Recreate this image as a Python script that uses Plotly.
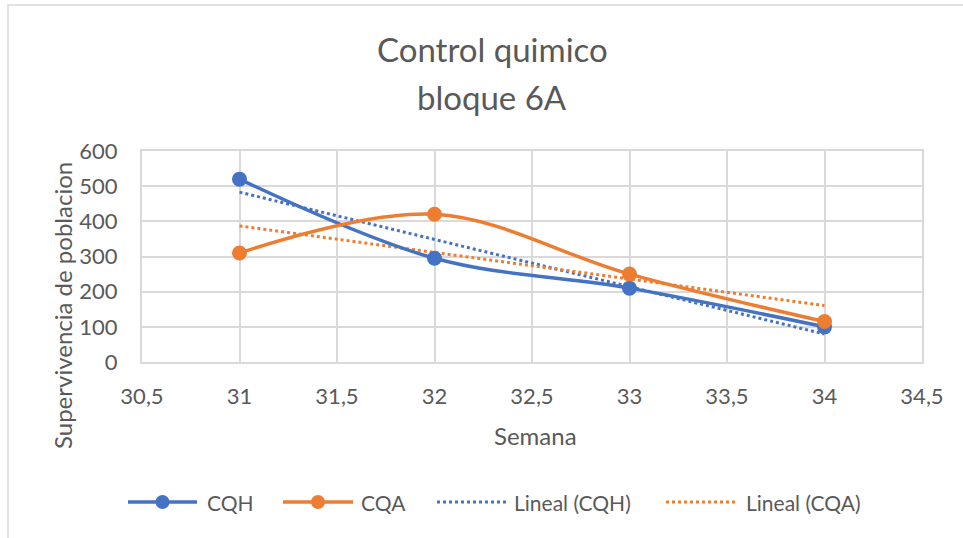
import numpy as np
import plotly.graph_objects as go

semana = [31, 32, 33, 34]
cqh = [520, 295, 210, 100]
cqa = [310, 420, 250, 115]
x_ticks = [30.5, 31, 31.5, 32, 32.5, 33, 33.5, 34, 34.5]
x_ticklabels = ["30,5", "31", "31,5", "32", "32,5", "33", "33,5", "34", "34,5"]
y_ticks = [0, 100, 200, 300, 400, 500, 600]

BLUE = "#4472C4"
ORANGE = "#ED7D31"
GRID = "#D9D9D9"
TXT = "#595959"
FONT = "Lato"

# plot area in pixels
L, R, T, B = 142, 922, 151, 362
W, H = R - L, B - T


def px_x(p):
    return (p - L) / W


def px_y(p):
    return (B - p) / H


def trend(x, y):
    m, c = np.polyfit(x, y, 1)
    return [m * xi + c for xi in x]


fig = go.Figure()
fig.add_trace(go.Scatter(x=semana, y=trend(semana, cqh), mode="lines", name="Lineal (CQH)",
                         line=dict(color=BLUE, width=3, dash="dot"), showlegend=False))
fig.add_trace(go.Scatter(x=semana, y=trend(semana, cqa), mode="lines", name="Lineal (CQA)",
                         line=dict(color=ORANGE, width=3, dash="dot"), showlegend=False))
fig.add_trace(go.Scatter(x=semana, y=cqh, mode="lines+markers", name="CQH",
                         line=dict(color=BLUE, width=3.5, shape="spline", smoothing=1),
                         marker=dict(size=15, color=BLUE), showlegend=False))
fig.add_trace(go.Scatter(x=semana, y=cqa, mode="lines+markers", name="CQA",
                         line=dict(color=ORANGE, width=3.5, shape="spline", smoothing=1),
                         marker=dict(size=15, color=ORANGE), showlegend=False))

shapes = []
annotations = []

# chart border
shapes.append(dict(type="rect", xref="paper", yref="paper",
                   x0=px_x(8), x1=px_x(975), y0=px_y(550), y1=px_y(5),
                   line=dict(color=GRID, width=1.5), fillcolor="rgba(0,0,0,0)", layer="below"))

# title
annotations.append(dict(text="Control quimico", xref="paper", yref="paper", x=px_x(492), y=px_y(49),
                        showarrow=False, font=dict(family=FONT, size=33, color=TXT),
                        xanchor="center", yanchor="middle"))
annotations.append(dict(text="bloque 6A", xref="paper", yref="paper", x=px_x(492), y=px_y(97),
                        showarrow=False, font=dict(family=FONT, size=33, color=TXT),
                        xanchor="center", yanchor="middle"))

# axis titles
annotations.append(dict(text="Semana", xref="paper", yref="paper", x=px_x(535), y=px_y(435),
                        showarrow=False, font=dict(family=FONT, size=24, color=TXT),
                        xanchor="center", yanchor="middle"))
annotations.append(dict(text="Supervivencia de poblacion", xref="paper", yref="paper",
                        x=px_x(62), y=px_y(306), textangle=-90,
                        showarrow=False, font=dict(family=FONT, size=24, color=TXT),
                        xanchor="center", yanchor="middle"))

# manual legend
leg_y = px_y(502)
legend_items = [
    (128, 197, BLUE, "solid", True, 205, "CQH"),
    (283, 353, ORANGE, "solid", True, 359, "CQA"),
    (437, 506, BLUE, "dot", False, 512, "Lineal (CQH)"),
    (666, 737, ORANGE, "dot", False, 744, "Lineal (CQA)"),
]
for x0, x1, col, dash, mk, tx, label in legend_items:
    shapes.append(dict(type="line", xref="paper", yref="paper", x0=px_x(x0), x1=px_x(x1),
                       y0=leg_y, y1=leg_y,
                       line=dict(color=col, width=3.5 if dash == "solid" else 3, dash=dash)))
    if mk:
        shapes.append(dict(type="circle", xref="paper", yref="paper",
                           xsizemode="pixel", ysizemode="pixel",
                           xanchor=px_x((x0 + x1) / 2), yanchor=leg_y,
                           x0=-7, x1=7, y0=-7, y1=7,
                           fillcolor=col, line=dict(color=col, width=0)))
    annotations.append(dict(text=label, xref="paper", yref="paper", x=px_x(tx), y=leg_y,
                            showarrow=False, font=dict(family=FONT, size=21, color=TXT),
                            xanchor="left", yanchor="middle"))

fig.update_layout(
    width=963, height=538,
    margin=dict(l=L, r=963 - R, t=T, b=538 - B),
    paper_bgcolor="white", plot_bgcolor="white",
    font=dict(family=FONT, size=21, color=TXT),
    shapes=shapes, annotations=annotations,
    showlegend=False,
)
fig.update_xaxes(range=[30.5, 34.5], tickvals=x_ticks, ticktext=x_ticklabels,
                 showgrid=True, gridcolor=GRID, gridwidth=2, zeroline=False,
                 showline=True, linecolor=GRID, linewidth=2, mirror=True,
                 ticks="", ticklabelstandoff=14, tickfont=dict(family=FONT, size=22, color=TXT))
fig.update_yaxes(range=[0, 600], tickvals=y_ticks,
                 showgrid=True, gridcolor=GRID, gridwidth=2, zeroline=False,
                 showline=True, linecolor=GRID, linewidth=2, mirror=True,
                 ticks="", ticklabelstandoff=18, tickfont=dict(family=FONT, size=22, color=TXT))

fig.write_html("out.html", config={"displayModeBar": False},
               post_script="document.body.style.margin='0px';")
